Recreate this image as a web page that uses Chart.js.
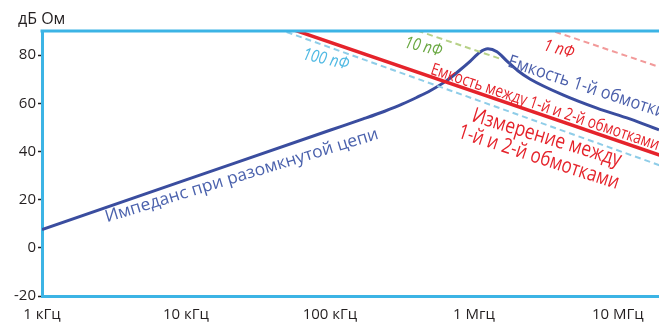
<!DOCTYPE html>
<html><head><meta charset="utf-8">
<script src="https://cdn.jsdelivr.net/npm/chart.js@4.4.1/dist/chart.umd.min.js"></script>
<style>html,body{margin:0;padding:0;background:#fff;}#wrap{width:659px;height:327px;}canvas{display:block;}</style>
</head><body><div id="wrap"><canvas id="c" width="659" height="327"></canvas></div>
<script>
// ---- data ----
const freqTicks = [1e3, 1e4, 1e5, 1e6, 1e7];
const freqTickLabels = ['1 кГц', '10 кГц', '100 кГц', '1 Мгц', '10 МГц'];
const dbTicks = [-20, 0, 20, 40, 60, 80];
const yTitle = 'дБ Ом';

// open-circuit impedance (blue)
const impFreq = [1e3, 1e4, 1e5, 1.7e5, 2.4e5, 3.2e5, 4.0e5, 5.0e5, 6.5e5, 8.0e5, 9.4e5, 1.1e6, 1.25e6, 1.445e6, 1.69e6, 2.02e6, 2.45e6, 4.15e6, 7.15e6, 1.21e7, 1.93e7];
const impDb   = [7.6, 28.2, 48.8, 53.5, 56.7, 59.7, 62.4, 65.3, 69.5, 73.8, 77.4, 81.2, 82.6, 81.4, 77.6, 73.5, 70.1, 63.5, 58.0, 53.5, 49.0];
// measured inter-winding capacitance (red solid)
const mutualFreq = [5e4, 2e7];
const mutualDb   = [91.5, 38.3];
// 100 pF reference (cyan dashed)
const c100Freq = [5e4, 2e7];
const c100Db   = [89.6, 34.0];
// 10 pF reference (green dashed)
const c10Freq = [3e5, 1.52e6];
const c10Db   = [92.8, 78.5];
// 1 pF reference (pink dashed)
const c1Freq = [2e6, 2e7];
const c1Db   = [95.0, 74.8];

const FONT = '"Open Sans", "Noto Sans", sans-serif';
const toXY = (fs, ds) => fs.map((f, i) => ({x: f, y: ds[i]}));

// annotation texts anchored in data coordinates (baseline start)
const notes = [
  {text: 'Импеданс при разомкнутой цепи', f: 2827, db: 10.6, angle: -17.1, size: 17, len: 285, color: '#4b62ad', weight: 500},
  {text: 'Емкость 1-й обмотки', f: 1.694e6, db: 75.4, angle: 18.3, size: 18, len: 165, color: '#4b5fab', weight: 500},
  {text: 'Емкость между 1-й и 2-й обмотками', f: 4.94e5, db: 72.3, angle: 18.6, size: 17, len: 240, color: '#e5232b', weight: 500},
  {text: 'Измерение между', f: 9.53e5, db: 52.6, angle: 17, size: 21, len: 155, color: '#e5232b', weight: 500},
  {text: '1-й и 2-й обмотками', f: 7.62e5, db: 45.9, angle: 18, size: 21, len: 168, color: '#e5232b', weight: 500},
  {text: '100 пФ', f: 6.39e4, db: 78.4, angle: 13, size: 17, len: 47, color: '#4fb9e3', italic: true},
  {text: '10 пФ', f: 3.26e5, db: 83.3, angle: 14, size: 17, len: 38, color: '#6aa842', italic: true},
  {text: '1 пФ', f: 3.01e6, db: 82.1, angle: 15, size: 17, len: 31, color: '#e5232b', italic: true}
];

const AXIS = '#3cb4e5';

const decor = {
  id: 'decor',
  afterDatasetsDraw(chart) {
    const ctx = chart.ctx, a = chart.chartArea;
    ctx.save();
    ctx.strokeStyle = AXIS; ctx.lineWidth = 3;
    ctx.beginPath(); ctx.moveTo(a.left - 1.5, a.top); ctx.lineTo(chart.width, a.top); ctx.stroke();
    ctx.restore();
    const xs = chart.scales.x, ys = chart.scales.y;
    notes.forEach(n => {
      ctx.save();
      ctx.translate(xs.getPixelForValue(n.f), ys.getPixelForValue(n.db));
      ctx.rotate(n.angle * Math.PI / 180);
      ctx.font = (n.italic ? 'italic ' : '') + (n.weight || 400) + ' ' + n.size + 'px ' + FONT;
      const w = ctx.measureText(n.text).width;
      ctx.scale(n.len / w, 1);
      ctx.fillStyle = n.color; ctx.textAlign = 'left'; ctx.textBaseline = 'alphabetic';
      ctx.fillText(n.text, 0, 0);
      ctx.restore();
    });
    ctx.save();
    ctx.font = '16px ' + FONT; ctx.fillStyle = '#231f20';
    ctx.textAlign = 'left'; ctx.textBaseline = 'alphabetic';
    ctx.fillText(yTitle, 18, 24);
    ctx.restore();
  }
};

new Chart(document.getElementById('c'), {
  type: 'line',
  data: {
    datasets: [
      {data: toXY(c100Freq, c100Db), borderColor: '#8fcde8', borderWidth: 2, borderDash: [6, 4], clip: 0},
      {data: toXY(c10Freq, c10Db), borderColor: '#b7d188', borderWidth: 2, borderDash: [6, 4], clip: 0},
      {data: toXY(c1Freq, c1Db), borderColor: '#f29a9a', borderWidth: 2, borderDash: [6, 4], clip: 0},
      {data: toXY(mutualFreq, mutualDb), borderColor: '#e5232b', borderWidth: 3.5, clip: 0},
      {data: toXY(impFreq, impDb), borderColor: '#3a4d9f', borderWidth: 3, cubicInterpolationMode: 'monotone', clip: 0}
    ]
  },
  options: {
    responsive: false, animation: false, devicePixelRatio: 1,
    layout: {padding: {top: 31, left: 0, right: 0, bottom: 0}},
    elements: {point: {radius: 0}},
    plugins: {legend: {display: false}, tooltip: {enabled: false}},
    scales: {
      x: {
        type: 'logarithmic', min: 1e3, max: 1.93e7,
        afterFit: s => { s.height = 31; },
        afterBuildTicks: s => { s.ticks = freqTicks.map(v => ({value: v})); },
        ticks: {
          autoSkip: false, maxRotation: 0, padding: 10, color: '#231f20',
          font: {family: FONT, size: 15},
          callback: (v, i) => freqTickLabels[i]
        },
        grid: {display: false, drawTicks: false},
        border: {display: true, color: AXIS, width: 3}
      },
      y: {
        min: -20, max: 90,
        afterFit: s => { s.width = 42; },
        afterBuildTicks: s => { s.ticks = dbTicks.map(v => ({value: v})); },
        ticks: {padding: 2, color: '#231f20', font: {family: FONT, size: 15}},
        grid: {drawOnChartArea: false, drawTicks: true, tickLength: 4, color: '#231f20', tickWidth: 1.5},
        border: {display: true, color: AXIS, width: 3}
      }
    }
  },
  plugins: [decor]
});
</script>
</body></html>
